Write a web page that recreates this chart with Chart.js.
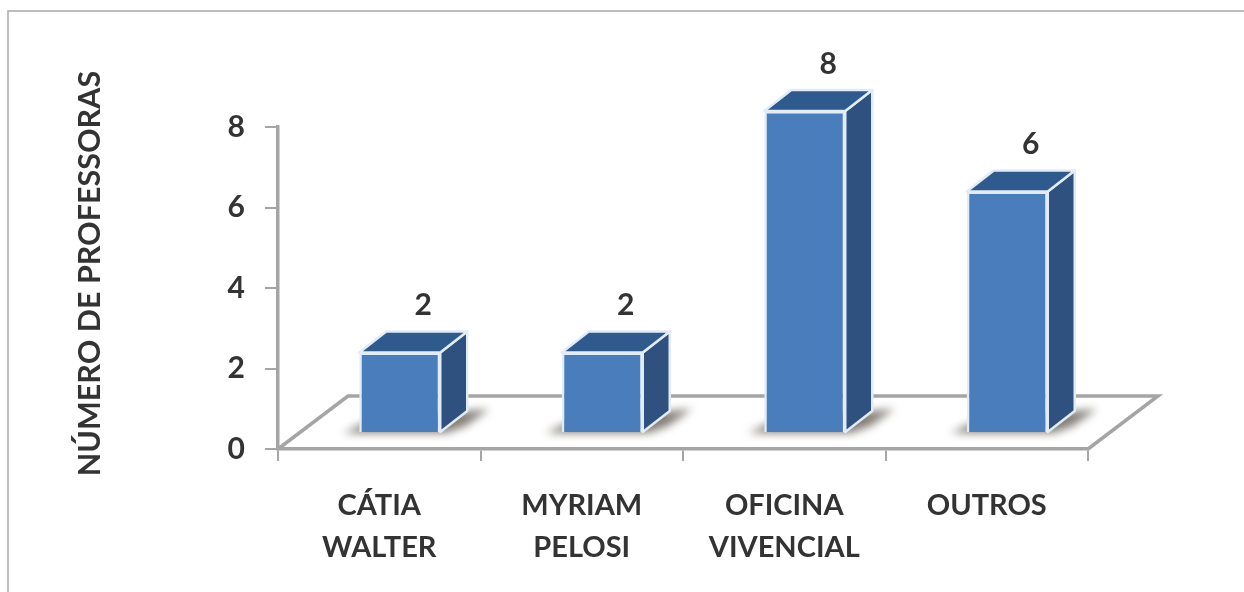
<!DOCTYPE html>
<html><head><meta charset="utf-8">
<style>html,body{margin:0;padding:0;background:#fff;overflow:hidden}canvas{display:block;filter:blur(.5px)}</style>
<script src="https://cdn.jsdelivr.net/npm/chart.js@4"></script>
</head><body>
<canvas id="c" width="1244" height="592"></canvas>
<script>
const categories = [["CÁTIA","WALTER"],["MYRIAM","PELOSI"],["OFICINA","VIVENCIAL"],["OUTROS"]];
const professoras = [2,2,8,6];
const yTicks = [0,2,4,6,8];
const yTitle = "NÚMERO DE PROFESSORAS";

const FONT = "Lato, Carlito, 'Open Sans', sans-serif";
const TEXT = "#333333", AXIS = "#a5a5a5", EDGE = "#e2ecf6";
const SHIFT = {x:20.5, y:-16};      // bars stand in the middle of the floor
const DEPTH = {x:27, y:-21};        // bar depth
const FLOOR = {x:70, y:-53};        // floor depth

const scene3d = {
  id:'scene3d',
  beforeDraw(chart){
    const c = chart.ctx;
    c.save();
    c.fillStyle='#fff'; c.fillRect(0,0,chart.width,chart.height);
    c.strokeStyle='#a9a9a9'; c.lineWidth=1.5;
    c.beginPath(); c.moveTo(8,chart.height); c.lineTo(8,11); c.lineTo(chart.width,11); c.stroke();
    c.restore();
  },
  beforeDatasetsDraw(chart){
    const c = chart.ctx, a = chart.chartArea;
    c.save();
    c.strokeStyle=AXIS; c.lineWidth=3.5; c.lineJoin='miter';
    c.beginPath();
    c.moveTo(a.left,a.bottom); c.lineTo(a.left+FLOOR.x,a.bottom+FLOOR.y);
    c.lineTo(a.right+FLOOR.x,a.bottom+FLOOR.y); c.lineTo(a.right,a.bottom);
    c.stroke();
    chart.getDatasetMeta(0).data.forEach(b=>{
      const x0=b.x-b.width/2+SHIFT.x, x1=b.x+b.width/2+SHIFT.x, yb=b.base+SHIFT.y;
      c.save();
      c.filter='blur(4px)';
      c.fillStyle='rgba(90,82,72,.75)';
      c.beginPath();
      c.moveTo(x0-16,yb+1); c.lineTo(x0+12,yb-12); c.lineTo(x1+DEPTH.x+22,yb+DEPTH.y-2);
      c.lineTo(x1+DEPTH.x-2,yb-6); c.lineTo(x1+6,yb+1); c.closePath(); c.fill();
      c.restore();
      const y=b.y+SHIFT.y;
      c.lineWidth=2.5; c.lineJoin='round'; c.strokeStyle=EDGE;
      c.fillStyle='#2e5180';
      c.beginPath(); c.moveTo(x1,y); c.lineTo(x1+DEPTH.x,y+DEPTH.y);
      c.lineTo(x1+DEPTH.x,yb+DEPTH.y); c.lineTo(x1,yb); c.closePath(); c.fill(); c.stroke();
      c.fillStyle='#2f5a8e';
      c.beginPath(); c.moveTo(x0,y); c.lineTo(x0+DEPTH.x,y+DEPTH.y);
      c.lineTo(x1+DEPTH.x,y+DEPTH.y); c.lineTo(x1,y); c.closePath(); c.fill(); c.stroke();
    });
    c.restore();
  },
  beforeDatasetDraw(chart){ chart.ctx.save(); chart.ctx.translate(SHIFT.x,SHIFT.y); },
  afterDatasetDraw(chart){ chart.ctx.restore(); },
  afterDatasetsDraw(chart){
    const c = chart.ctx;
    c.save();
    c.font="700 30px "+FONT; c.fillStyle=TEXT; c.textAlign='center'; c.textBaseline='middle';
    chart.getDatasetMeta(0).data.forEach((b,i)=>{
      c.fillText(String(professoras[i]), b.x+44, b.y-63);
    });
    c.translate(90,273.5); c.rotate(-Math.PI/2);
    c.font="700 30.5px "+FONT;
    c.fillText(yTitle,0,0);
    c.restore();
  }
};

new Chart(document.getElementById('c'),{
  type:'bar',
  data:{labels:categories,datasets:[{
    label:yTitle,data:professoras,
    backgroundColor:'#4a7dbb',borderColor:EDGE,borderWidth:2.5,
    barPercentage:.4,categoryPercentage:1,clip:false
  }]},
  options:{
    responsive:false,animation:false,
    layout:{padding:{left:70,top:127,right:156,bottom:0}},
    plugins:{legend:{display:false},tooltip:{enabled:false},title:{display:false}},
    scales:{
      x:{
        afterFit(s){s.height=143;},
        grid:{display:true,offset:true,drawOnChartArea:false,color:AXIS,lineWidth:2,tickLength:12,tickColor:AXIS},
        border:{display:true,color:AXIS,width:3.5},
        ticks:{font:{family:FONT,size:29,weight:'700',lineHeight:1.45},color:TEXT,maxRotation:0,minRotation:0,padding:24,autoSkip:false}
      },
      y:{
        min:0,max:8,
        afterFit(s){s.width=208;},
        afterBuildTicks(s){s.ticks=yTicks.map(v=>({value:v}));},
        grid:{display:true,drawOnChartArea:false,color:AXIS,lineWidth:2,tickLength:13,tickColor:AXIS},
        border:{display:true,color:AXIS,width:3.5},
        ticks:{font:{family:FONT,size:30,weight:'700'},color:TEXT,padding:20}
      }
    }
  },
  plugins:[scene3d]
});
</script>
</body></html>
